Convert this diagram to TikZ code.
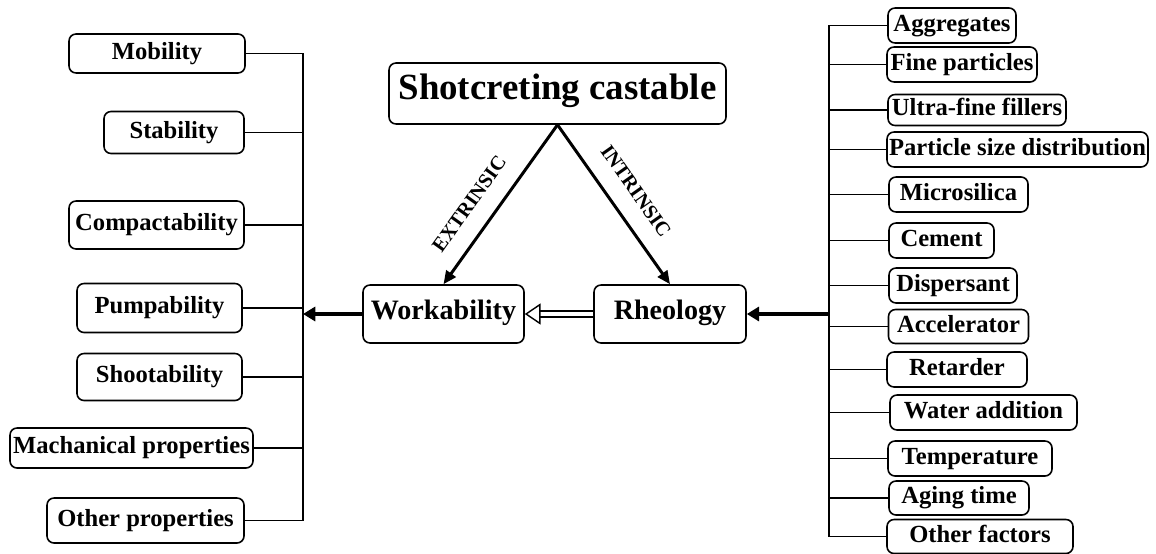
\documentclass[tikz,border=0pt]{standalone}
\usepackage{fontspec}
\setmainfont{Liberation Serif}
\usetikzlibrary{arrows.meta}

\tikzset{
  box/.style={draw, rounded corners=4pt, line width=0.9pt, inner sep=0pt,
    text height=0.68em, text depth=0pt,
    font=\bfseries\fontsize{14}{16}\selectfont},
  wh/.style 2 args={minimum width=#1*0.02cm, minimum height=#2*0.02cm},
  bus/.style={line width=0.9pt},
  fat/.style={line width=2.6pt, -{Triangle[length=7pt,width=8pt]}},
  diag/.style={line width=1.7pt, -{Triangle[length=7.5pt,width=6.5pt]}},
  lab/.style={font=\bfseries\fontsize{11.5}{13}\selectfont, inner sep=0pt}
}

\begin{document}
\begin{tikzpicture}[x=0.02cm, y=-0.02cm]
    \useasboundingbox (0,0) rectangle (1156,554);
    % main boxes
    \node[box, wh={337}{61}, font=\bfseries\fontsize{21}{24}\selectfont] (top) at (557.5,93.5) {Shotcreting castable};
    \node[box, wh={161}{58}, font=\bfseries\fontsize{16}{19}\selectfont] (work) at (443.5,314) {Workability};
    \node[box, wh={152}{58}, font=\bfseries\fontsize{16}{19}\selectfont] (rheo) at (670,314) {Rheology};
    % left side
    \node[box, wh={176}{39}] (mob) at (157,53.5) {Mobility};
    \node[box, wh={140}{42}] (stab) at (174,132.5) {Stability};
    \node[box, wh={175}{48}] (comp) at (156.5,225) {Compactability};
    \node[box, wh={165}{49}] (pump) at (159.5,308) {Pumpability};
    \node[box, wh={165}{47}] (shoot) at (159.5,377) {Shootability};
    \node[box, wh={243}{40}] (mech) at (131.5,448) {Machanical properties};
    \node[box, wh={197}{45}] (othp) at (145.5,520.5) {Other properties};
    % right side
    \node[box, wh={128}{35}] (agg) at (952,25.5) {Aggregates};
    \node[box, wh={150}{35}] (fine) at (962,64.5) {Fine particles};
    \node[box, wh={178}{31}] (ultra) at (977,110) {Ultra-fine fillers};
    \node[box, wh={261}{35}] (psd) at (1017.5,149.5) {Particle size distribution};
    \node[box, wh={139}{35}] (micro) at (958.5,194.5) {Microsilica};
    \node[box, wh={105}{35}] (cem) at (941.5,240.5) {Cement};
    \node[box, wh={128}{35}] (disp) at (953,285.5) {Dispersant};
    \node[box, wh={140}{34}] (acc) at (958.5,326.5) {Accelerator};
    \node[box, wh={140}{35}] (ret) at (957,369.5) {Retarder};
    \node[box, wh={187}{35}] (water) at (983.5,412.5) {Water addition};
    \node[box, wh={164}{35}] (temp) at (970,458.5) {Temperature};
    \node[box, wh={140}{34}] (aging) at (959,498) {Aging time};
    \node[box, wh={186}{34}] (othf) at (980,536.5) {Other factors};
    % buses
    \coordinate (lbus) at (303,309);
    \coordinate (rbus) at (829,319);
    \draw[bus] (mob.east -| lbus) -- (othp.east -| lbus);
    \foreach \n in {mob,stab,comp,pump,shoot,mech,othp}
        \draw[bus] (\n.east) -- (\n.east -| lbus);
    \draw[bus] (agg.west -| rbus) -- (othf.west -| rbus);
    \foreach \n in {agg,fine,ultra,psd,micro,cem,disp,acc,ret,water,temp,aging,othf}
        \draw[bus] (\n.west) -- (\n.west -| rbus);
    % arrows
    \draw[fat] (work.west) -- (work.west -| lbus);
    \draw[fat] (rheo.east -| rbus) -- (rheo.east);
    \draw[diag] (top.south) -- node[lab, pos=0.59, sloped, above=10pt] {EXTRINSIC} (work.north);
    \draw[diag] (top.south) -- node[lab, pos=0.51, sloped, above=10pt] {INTRINSIC} (rheo.north);
    \draw[double, double distance=2.5pt, line width=0.8pt, -{Triangle[open,length=9pt,width=12pt]}] (rheo.west) -- (work.east);
\end{tikzpicture}
\end{document}
